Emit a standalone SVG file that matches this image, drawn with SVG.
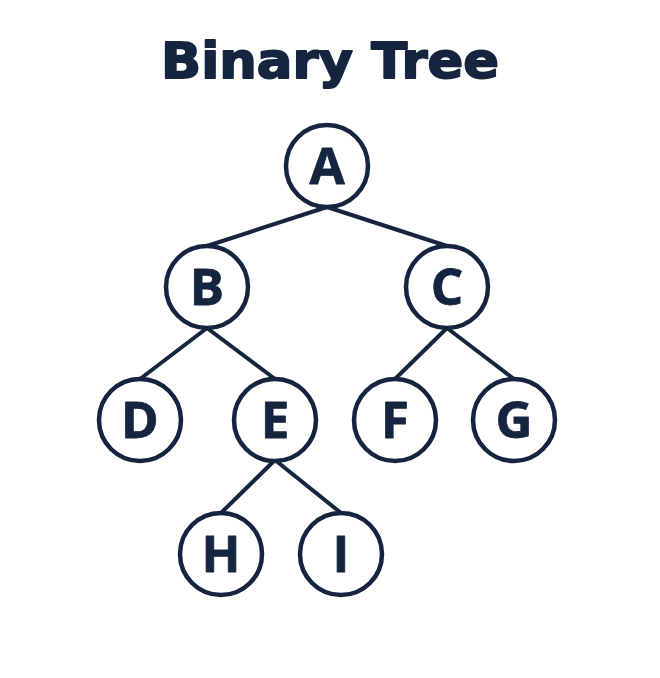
<svg xmlns="http://www.w3.org/2000/svg" width="660" height="678" viewBox="0 0 660 678">
<style>
.title{font-family:"DejaVu Sans",Verdana,sans-serif;font-weight:bold;font-size:49px;fill:#15243f;stroke:#15243f;stroke-width:1.8;stroke-linejoin:round}
.node circle{fill:#fff;stroke:#15243f;stroke-width:4.5}
.node text{font-family:"Open Sans","DejaVu Sans",sans-serif;font-weight:bold;font-size:51px;fill:#15243f;stroke:#15243f;stroke-width:0.8;stroke-linejoin:round;text-anchor:middle}
.edges line{stroke:#15243f;stroke-width:4;stroke-linecap:round}
</style>
<rect width="660" height="678" fill="#fff"/>
<text class="title" x="330" y="78" text-anchor="middle" textLength="338" lengthAdjust="spacingAndGlyphs">Binary Tree</text>
<g id="edges" class="edges">
<line x1="327" y1="207" x2="207" y2="246"/>
<line x1="327" y1="207" x2="447" y2="246"/>
<line x1="207" y1="328" x2="140" y2="379"/>
<line x1="207" y1="328" x2="275" y2="379"/>
<line x1="447" y1="328" x2="395" y2="379"/>
<line x1="447" y1="328" x2="514" y2="379"/>
<line x1="275" y1="460" x2="221" y2="513"/>
<line x1="275" y1="460" x2="341" y2="513"/>
</g>
<g id="node-A" class="node"><circle cx="327" cy="166" r="41"/><text x="327" y="184">A</text></g>
<g id="node-B" class="node"><circle cx="207" cy="287" r="41"/><text x="207" y="305">B</text></g>
<g id="node-C" class="node"><circle cx="447" cy="287" r="41"/><text x="447" y="305">C</text></g>
<g id="node-D" class="node"><circle cx="140" cy="420" r="41"/><text x="140" y="438">D</text></g>
<g id="node-E" class="node"><circle cx="275" cy="420" r="41"/><text x="275" y="438">E</text></g>
<g id="node-F" class="node"><circle cx="395" cy="420" r="41"/><text x="395" y="438">F</text></g>
<g id="node-G" class="node"><circle cx="514" cy="420" r="41"/><text x="514" y="438">G</text></g>
<g id="node-H" class="node"><circle cx="221" cy="554" r="41"/><text x="221" y="572">H</text></g>
<g id="node-I" class="node"><circle cx="341" cy="554" r="41"/><text x="341" y="572">I</text></g>
</svg>
